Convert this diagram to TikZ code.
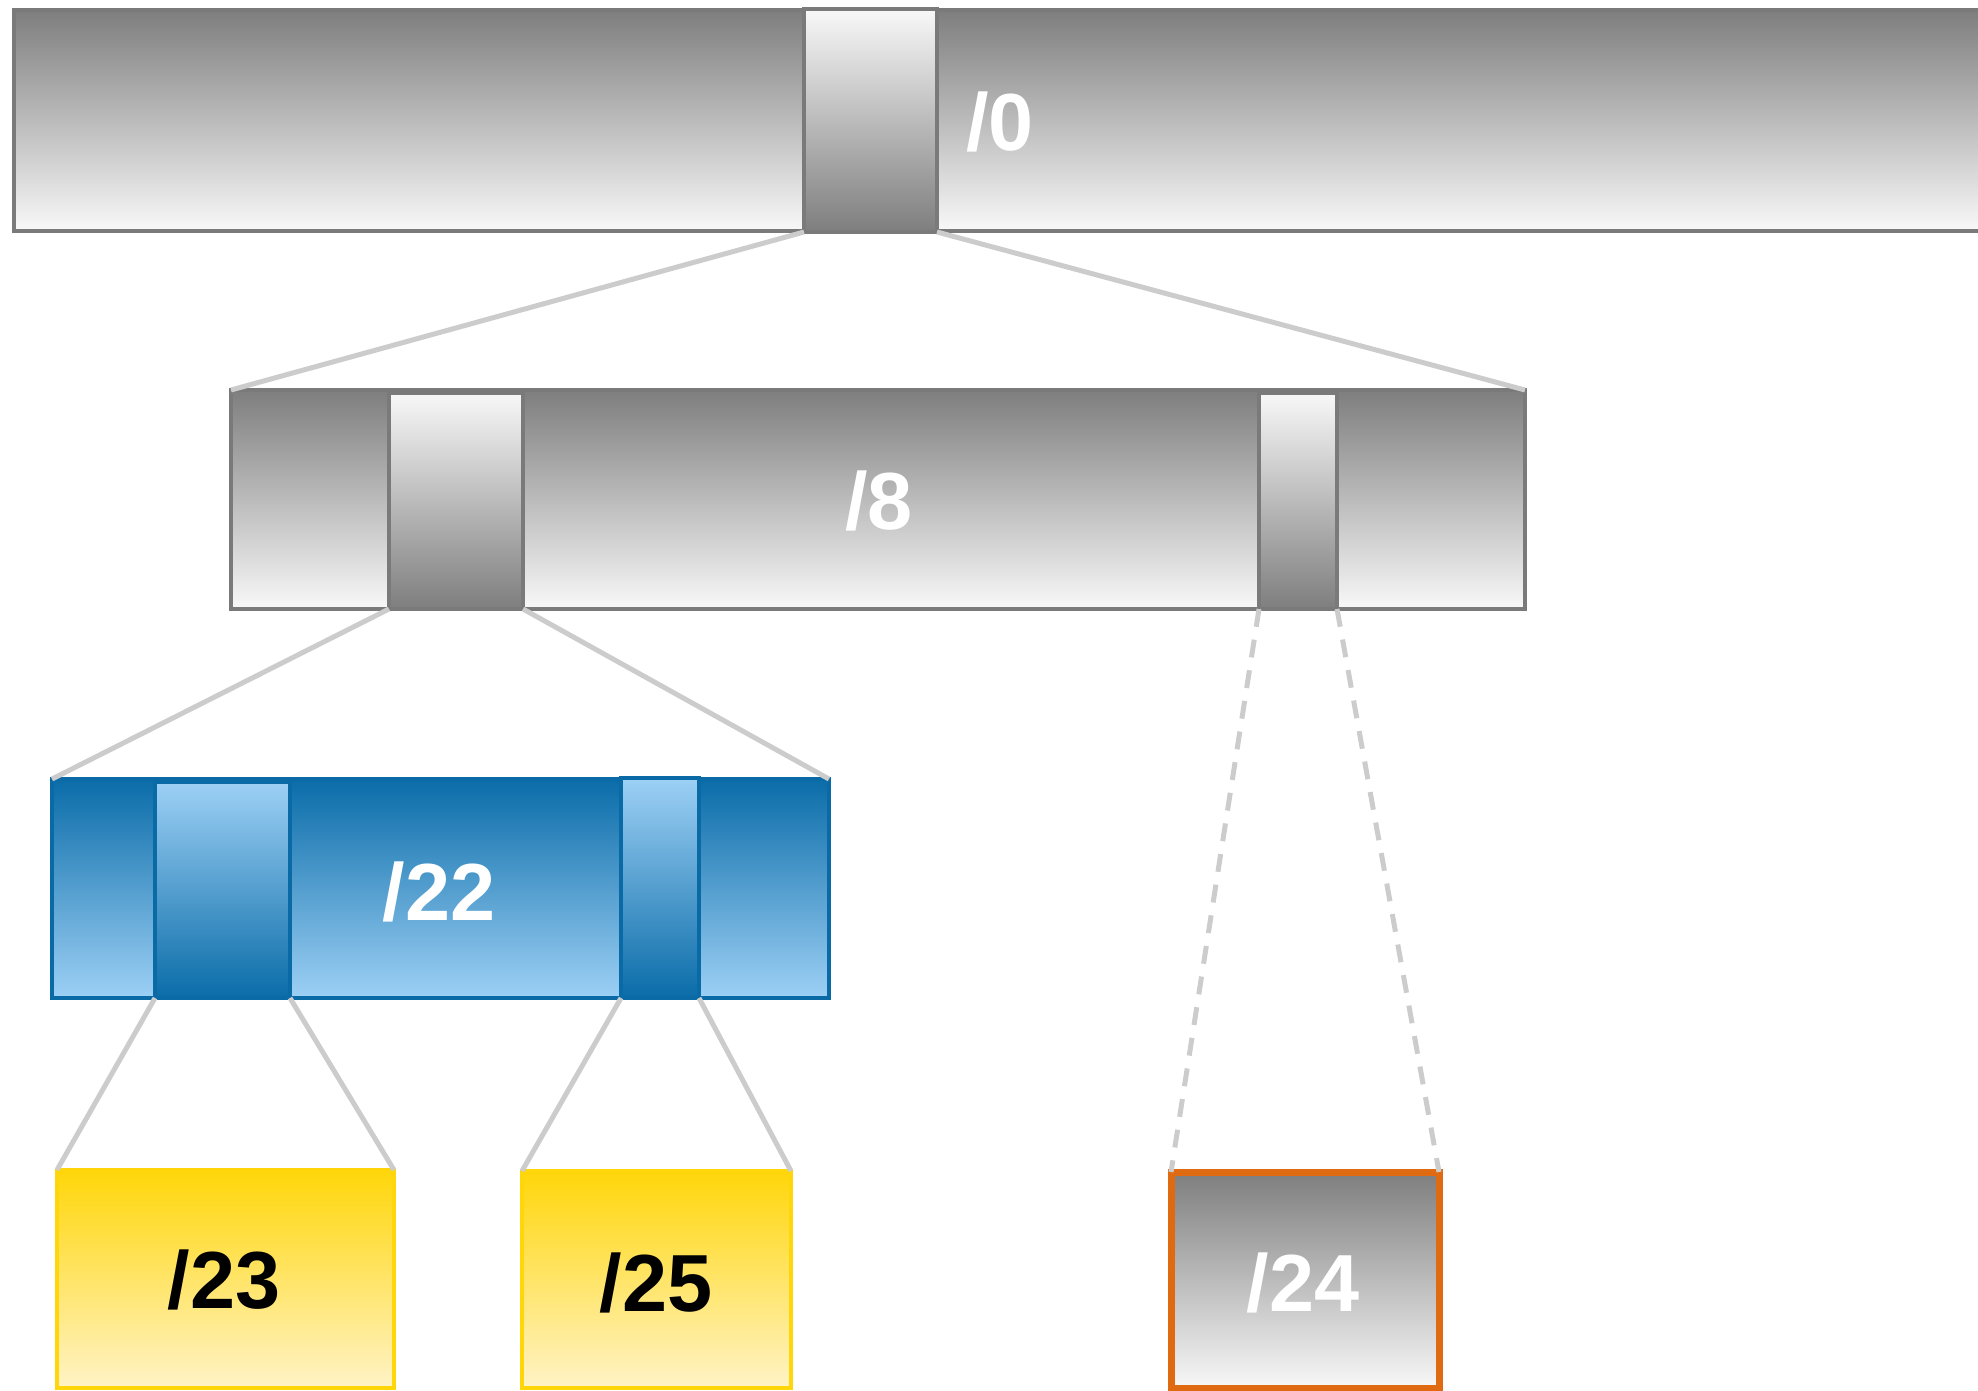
\documentclass[tikz,border=0pt]{standalone}
\usepackage{fontspec}
\setmainfont{Liberation Sans}
\usetikzlibrary{shadings}
\definecolor{gdark}{HTML}{7E7E7E}
\definecolor{glight}{HTML}{F8F8F8}
\definecolor{gline}{HTML}{7A7A7A}
\definecolor{bdark}{HTML}{0A6CA8}
\definecolor{blight}{HTML}{9DD0F5}
\definecolor{bline}{HTML}{0A6AA6}
\definecolor{ydark}{HTML}{FFD60A}
\definecolor{ylight}{HTML}{FFF3C6}
\definecolor{oline}{HTML}{E06A12}
\definecolor{conn}{HTML}{CCCCCC}
\begin{document}
\begin{tikzpicture}[x=1pt,y=-1pt,
  box/.style={rectangle,inner sep=0pt,outer sep=0pt,anchor=north west,line width=4pt},
  graybar/.style={box,draw=gline,top color=gdark,bottom color=glight},
  grayin/.style={box,draw=gline,top color=glight,bottom color=gdark},
  bluebar/.style={box,draw=bline,top color=bdark,bottom color=blight},
  bluein/.style={box,draw=bline,top color=blight,bottom color=bdark},
  yelbox/.style={box,draw=ydark,top color=ydark,bottom color=ylight},
  orbox/.style={box,draw=oline,line width=7pt,top color=gdark,bottom color=glight},
  lbl/.style={font=\fontsize{81}{85}\selectfont\bfseries,text=white,inner sep=0pt},
  lblk/.style={lbl,text=black},
  link/.style={draw=conn,line width=5pt},
  dlink/.style={link,dash pattern=on 18pt off 13pt}]
\useasboundingbox (0,0) rectangle (1978,1390);
\clip (0,0) rectangle (1978,1390);
% top bar
\node[graybar,minimum width=2040pt,minimum height=221pt] (b0) at (14,10) {};
\node[grayin,minimum width=133pt,minimum height=223pt] (i0) at (804,9) {};
\node[lbl] (t0) at (1000,122) {/0};
% /8 bar
\node[graybar,minimum width=1294pt,minimum height=219pt] (b8) at (231,390) {};
\node[grayin,minimum width=134pt,minimum height=216pt] (i8a) at (389,393) {};
\node[grayin,minimum width=78pt,minimum height=216pt] (i8b) at (1259,393) {};
\node[lbl] (t8) at (879,501) {/8};
% /22 bar
\node[bluebar,minimum width=777pt,minimum height=219pt] (b22) at (52,779) {};
\node[bluein,minimum width=135pt,minimum height=216pt] (i22a) at (155,782) {};
\node[bluein,minimum width=78pt,minimum height=220pt] (i22b) at (621,778) {};
\node[lbl] (t22) at (439,892) {/22};
% leaves
\node[yelbox,minimum width=337pt,minimum height=218pt] (b23) at (57,1170) {};
\node[lblk] (t23) at (224,1280) {/23};
\node[yelbox,minimum width=269pt,minimum height=217pt] (b25) at (522,1171) {};
\node[lblk] (t25) at (656,1283) {/25};
\node[orbox,minimum width=268pt,minimum height=216pt] (b24) at (1171,1172) {};
\node[lbl] (t24) at (1303,1283) {/24};
% connectors
\draw[link] (i0.south west) -- (b8.north west);
\draw[link] (i0.south east) -- (b8.north east);
\draw[link] (i8a.south west) -- (b22.north west);
\draw[link] (i8a.south east) -- (b22.north east);
\draw[dlink] (i8b.south west) -- (b24.north west);
\draw[dlink] (i8b.south east) -- (b24.north east);
\draw[link] (i22a.south west) -- (b23.north west);
\draw[link] (i22a.south east) -- (b23.north east);
\draw[link] (i22b.south west) -- (b25.north west);
\draw[link] (i22b.south east) -- (b25.north east);
\end{tikzpicture}
\end{document}
